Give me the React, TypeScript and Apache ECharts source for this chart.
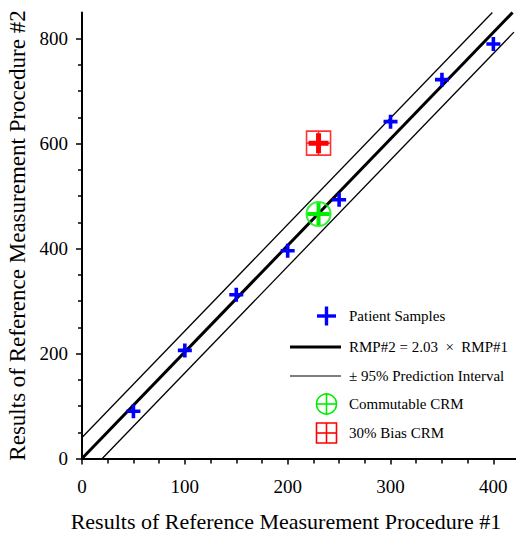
import React, { useEffect, useRef } from "react";
import * as echarts from "echarts";

// ---- data ----
const sampleX = [50, 100, 150, 200, 250, 300, 350, 400];
const sampleY = [90, 206, 312, 396, 493, 642, 722, 790];
const commutableCRM = [230, 466];
const biasCRM = [230, 601];
const fitLine = [[0, 0], [418.7, 850]];
const upperPI = [[0, 40], [399, 850]];
const lowerPI = [[19.7, 0], [420, 812.6]];
const xMajorTicks = [0, 100, 200, 300, 400];
const xMinorTicks = [25, 50, 75, 125, 150, 175, 225, 250, 275, 325, 350, 375];
const yMajorTicks = [0, 200, 400, 600, 800];
const yMinorTicks = [50, 100, 150, 250, 300, 350, 450, 500, 550, 650, 700, 750];
const xTitle = "Results of Reference Measurement Procedure #1";
const yTitle = "Results of Reference Measurement Procedure #2";
const legendLabels = [
  "Patient Samples",
  "RMP#2 = 2.03  \u00d7  RMP#1",
  "\u00b1 95% Prediction Interval",
  "Commutable CRM",
  "30% Bias CRM",
];

const FONT = "Liberation Serif";
const BLUE = "#0000ff";
const GREEN = "#00ee00";
const RED = "#ff0000";

const plusSmall = "path://M5.2,0H8.8V5.2H14V8.8H8.8V14H5.2V8.8H0V5.2H5.2Z";
const plusGreen = "path://M9,0H13V9H22V13H13V22H9V13H0V9H9Z";
const plusRed = "path://M7.5,0H12.5V7.5H20V12.5H12.5V20H7.5V12.5H0V7.5H7.5Z";
const circleCross = "path://M0,12A12,12,0,1,0,24,12A12,12,0,1,0,0,12Z M12,0V24 M0,12H24";
const squareCross = "path://M0,0H24V24H0Z M12,0V24 M0,12H24";

export default function App() {
  const ref = useRef<HTMLDivElement>(null);

  useEffect(() => {
    document.body.style.margin = "0";
    if (!ref.current) return;
    const chart = echarts.init(ref.current, null, { renderer: "svg" });

    const axisBase = {
      type: "value" as const,
      min: 0,
      splitLine: { show: false },
    };

    const rowY = [316, 347, 376, 404, 433];
    const symX = 326.5;
    const textX = 349;
    const graphics: any[] = [];
    graphics.push(
      { type: "rect", shape: { x: symX - 9.5, y: rowY[0] - 1.7, width: 19, height: 3.4 }, style: { fill: BLUE } },
      { type: "rect", shape: { x: symX - 1.7, y: rowY[0] - 9.5, width: 3.4, height: 19 }, style: { fill: BLUE } },
      { type: "line", shape: { x1: 290, y1: rowY[1], x2: 341, y2: rowY[1] }, style: { stroke: "#000", lineWidth: 3 } },
      { type: "line", shape: { x1: 290, y1: rowY[2], x2: 341, y2: rowY[2] }, style: { stroke: "#000", lineWidth: 1.2 } },
      { type: "circle", shape: { cx: symX, cy: rowY[3], r: 10 }, style: { fill: "none", stroke: GREEN, lineWidth: 1.6 } },
      { type: "line", shape: { x1: symX - 10, y1: rowY[3], x2: symX + 10, y2: rowY[3] }, style: { stroke: GREEN, lineWidth: 1.6 } },
      { type: "line", shape: { x1: symX, y1: rowY[3] - 10, x2: symX, y2: rowY[3] + 10 }, style: { stroke: GREEN, lineWidth: 1.6 } },
      { type: "rect", shape: { x: symX - 10, y: rowY[4] - 10, width: 20, height: 20 }, style: { fill: "none", stroke: RED, lineWidth: 1.6 } },
      { type: "line", shape: { x1: symX - 10, y1: rowY[4], x2: symX + 10, y2: rowY[4] }, style: { stroke: RED, lineWidth: 1.6 } },
      { type: "line", shape: { x1: symX, y1: rowY[4] - 10, x2: symX, y2: rowY[4] + 10 }, style: { stroke: RED, lineWidth: 1.6 } }
    );
    legendLabels.forEach((label, i) => {
      graphics.push({
        type: "text",
        x: textX,
        y: rowY[i],
        style: {
          text: label,
          fontFamily: FONT,
          fontSize: 15,
          fill: "#000",
          textAlign: "left",
          textVerticalAlign: "middle",
        },
      });
    });
    // x-axis title (centred slightly left of the plot centre, as in the reference)
    graphics.push({
      type: "text",
      x: 286,
      y: 521.5,
      style: {
        text: xTitle,
        fontFamily: FONT,
        fontSize: 22,
        fill: "#000",
        textAlign: "center",
        textVerticalAlign: "middle",
      },
    });

    chart.setOption({
      animation: false,
      backgroundColor: "#fff",
      textStyle: { fontFamily: FONT, color: "#000" },
      grid: {
        left: 82,
        top: 12.5,
        width: 434,
        height: 446,
        containLabel: false,
        outerBoundsMode: "none",
      },
      xAxis: [
        {
          ...axisBase,
          max: 422,
          axisLine: { show: true, onZero: false, lineStyle: { color: "#000", width: 2 } },
          axisTick: { show: true, length: 6, customValues: xMajorTicks, lineStyle: { color: "#000", width: 1.5 } },
          axisLabel: { customValues: xMajorTicks, fontFamily: FONT, fontSize: 19, color: "#000", margin: 18 },
        },
        {
          ...axisBase,
          max: 422,
          position: "bottom",
          axisLine: { show: false },
          axisTick: { show: true, length: 5, customValues: xMinorTicks, lineStyle: { color: "#000", width: 1.5 } },
          axisLabel: { show: false },
        },
      ],
      yAxis: [
        {
          ...axisBase,
          max: 850,
          name: yTitle,
          nameLocation: "middle",
          nameGap: 51,
          nameTextStyle: { fontFamily: FONT, fontSize: 23, color: "#000" },
          axisLine: { show: true, onZero: false, lineStyle: { color: "#000", width: 2 } },
          axisTick: { show: true, length: 6, customValues: yMajorTicks, lineStyle: { color: "#000", width: 1.5 } },
          axisLabel: { customValues: yMajorTicks, fontFamily: FONT, fontSize: 19, color: "#000", margin: 14 },
        },
        {
          ...axisBase,
          max: 850,
          position: "left",
          axisLine: { show: false },
          axisTick: { show: true, length: 4, customValues: yMinorTicks, lineStyle: { color: "#000", width: 1.5 } },
          axisLabel: { show: false },
        },
      ],
      series: [
        { type: "line", data: upperPI, symbol: "none", lineStyle: { color: "#000", width: 1.3 }, z: 1 },
        { type: "line", data: lowerPI, symbol: "none", lineStyle: { color: "#000", width: 1.3 }, z: 1 },
        { type: "line", data: fitLine, symbol: "none", lineStyle: { color: "#000", width: 3 }, z: 2 },
        {
          type: "scatter",
          data: sampleX.map((x, i) => [x, sampleY[i]]),
          symbol: plusSmall,
          symbolSize: 14,
          itemStyle: { color: BLUE, opacity: 1 },
          z: 3,
        },
        {
          type: "scatter",
          data: [commutableCRM],
          symbol: circleCross,
          symbolSize: 24,
          itemStyle: { color: "transparent", borderColor: GREEN, borderWidth: 2 },
          z: 4,
        },
        {
          type: "scatter",
          data: [commutableCRM],
          symbol: plusGreen,
          symbolSize: 22,
          itemStyle: { color: GREEN, opacity: 1 },
          z: 4,
        },
        {
          type: "scatter",
          data: [biasCRM],
          symbol: squareCross,
          symbolSize: 24,
          itemStyle: { color: "transparent", borderColor: RED, borderWidth: 1.6 },
          z: 4,
        },
        {
          type: "scatter",
          data: [biasCRM],
          symbol: plusRed,
          symbolSize: 20,
          itemStyle: { color: RED, opacity: 1 },
          z: 4,
        },
      ],
      graphic: graphics,
    });

    return () => chart.dispose();
  }, []);

  return <div ref={ref} style={{ width: 516, height: 534 }} />;
}
